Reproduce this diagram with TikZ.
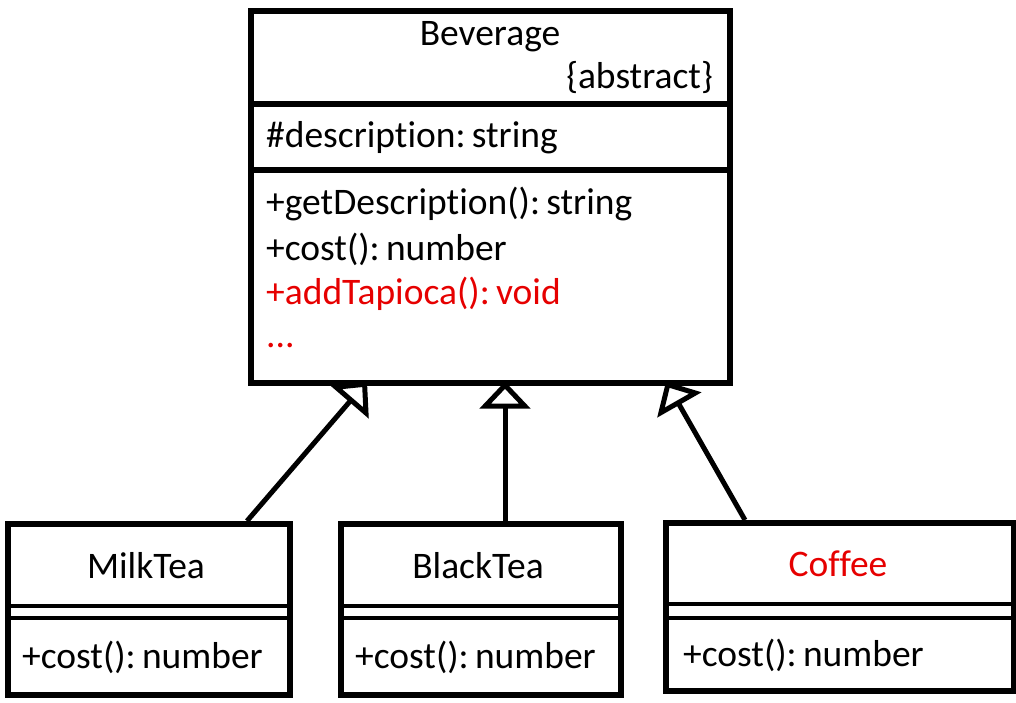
\documentclass[tikz,border=0pt]{standalone}
\usepackage{fontspec}
\setmainfont{Carlito}[Ligatures=NoCommon]
\usetikzlibrary{arrows.meta,calc}
\definecolor{umlred}{RGB}{230,0,0}
\begin{document}
\begin{tikzpicture}[x=1pt,y=-1pt,
  box/.style={draw,line width=5.5pt,rectangle,inner sep=0pt,anchor=north west},
  sep/.style={line width=5.5pt},
  dsep/.style={line width=4.5pt},
  txt/.style={inner sep=0pt,font=\fontsize{37.5}{45}\selectfont},
  inh/.style={line width=5pt,-{Triangle[open,length=27pt,width=50pt,line width=5pt]}}]
\useasboundingbox (0,0) rectangle (1016,702);
% Beverage
\node[box,minimum width=479pt,minimum height=372pt] (bev) at (248,8) {};
\draw[sep] (248,104) -- (727,104);
\draw[sep] (248,170) -- (727,170);
\node[txt] (bname) at (490,37) {Beverage};
\node[txt,anchor=east] (babs) at (713,77) {\{abstract\}};
\node[txt,anchor=west] (battr) at (266,138) {\#description:\,string};
\node[txt,anchor=west] (bm1) at (266,204) {+getDescription():\,string};
\node[txt,anchor=west] (bm2) at (266,249) {+cost():\,number};
\node[txt,anchor=west,text=umlred] (bm3) at (266,294) {+addTapioca():\,void};
\node[txt,anchor=base west,text=umlred] (bm4) at (266,347) {...};
% MilkTea
\node[box,minimum width=282pt,minimum height=171pt] (milk) at (5,521) {};
\draw[dsep] (5,606) -- (287,606);
\draw[dsep] (5,618) -- (287,618);
\node[txt] (mname) at (146,566) {MilkTea};
\node[txt,anchor=west] (mm1) at (22,657) {+cost():\,number};
% BlackTea
\node[box,minimum width=280pt,minimum height=171pt] (black) at (338,521) {};
\draw[dsep] (338,606) -- (618,606);
\draw[dsep] (338,618) -- (618,618);
\node[txt] (kname) at (478,566) {BlackTea};
\node[txt,anchor=west] (km1) at (355,657) {+cost():\,number};
% Coffee
\node[box,minimum width=348pt,minimum height=168pt] (coffee) at (663,520) {};
\draw[dsep] (663,604) -- (1011,604);
\draw[dsep] (663,618) -- (1011,618);
\node[txt,text=umlred] (cname) at (838,564) {Coffee};
\node[txt,anchor=west] (cm1) at (683,655) {+cost():\,number};
% inheritance
\draw[inh] ($(milk.north west)+(242,0)$) -- ($(bev.south west)+(119,-4)$);
\draw[inh] ($(black.north west)+(167,0)$) -- ($(bev.south west)+(257,-4)$);
\draw[inh] ($(coffee.north west)+(82,0)$) -- ($(bev.south west)+(418,-4)$);
\end{tikzpicture}
\end{document}
